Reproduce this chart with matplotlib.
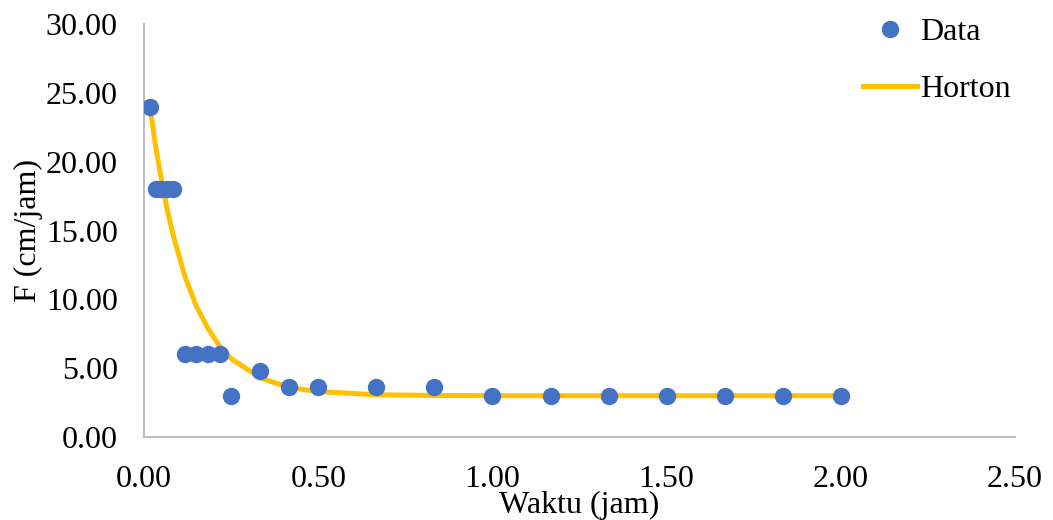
import matplotlib
matplotlib.use("Agg")
import matplotlib.pyplot as plt

plt.rcParams['font.family'] = ['Liberation Serif', 'DejaVu Serif']

# waktu (jam) dan laju infiltrasi (cm/jam)
waktu = [0.0167, 0.0333, 0.05, 0.0667, 0.0833, 0.1167, 0.15, 0.1833, 0.2167,
         0.25, 0.3333, 0.4167, 0.5, 0.6667, 0.8333, 1.0, 1.1667, 1.3333,
         1.5, 1.6667, 1.8333, 2.0]
f_data = [24.0, 18.0, 18.0, 18.0, 18.0, 6.0, 6.0, 6.0, 6.0,
          3.0, 4.8, 3.6, 3.6, 3.6, 3.6, 3.0, 3.0, 3.0,
          3.0, 3.0, 3.0, 3.0]
f_horton = [24.0, 21.1, 18.7, 16.5, 14.7, 11.7, 9.5, 7.9, 6.6,
            5.7, 4.3, 3.6, 3.3, 3.07, 3.02, 3.0, 3.0, 3.0,
            3.0, 3.0, 3.0, 3.0]

xticks = [0.0, 0.5, 1.0, 1.5, 2.0, 2.5]
yticks = [0, 5, 10, 15, 20, 25, 30]

fig = plt.figure(figsize=(10.53, 5.2), dpi=100)
ax = fig.add_axes([0.1368, 0.1596, 0.8272, 0.7942])

ax.plot(waktu, f_data, 'o', color='#4472C4', markersize=11.5, label='Data', zorder=3)
ax.plot(waktu, f_horton, '-', color='#FFC000', linewidth=3.6, label='Horton', zorder=2)

ax.set_xlim(0, 2.5)
ax.set_ylim(0, 30)
ax.set_xticks(xticks)
ax.set_yticks(yticks)
ax.set_xticklabels(['%.2f' % v for v in xticks])
ax.set_yticklabels(['%.2f' % v for v in yticks])
ax.tick_params(length=0, labelsize=23, colors='black')
ax.tick_params(axis='x', pad=20)
ax.tick_params(axis='y', pad=19)

for side in ['top', 'right']:
    ax.spines[side].set_visible(False)
for side in ['left', 'bottom']:
    ax.spines[side].set_color('#bfbfbf')
    ax.spines[side].set_linewidth(1.5)

ax.set_xlabel('Waktu (jam)', fontsize=23, labelpad=-2)
ax.set_ylabel('F (cm/jam)', fontsize=23, labelpad=2)

leg = fig.legend(loc='upper right', bbox_to_anchor=(0.978, 1.002), frameon=False,
                 fontsize=23, handlelength=1.7, labelspacing=0.85, borderaxespad=0.2,
                 handletextpad=0.1)

fig.savefig('out.png', dpi=100)
